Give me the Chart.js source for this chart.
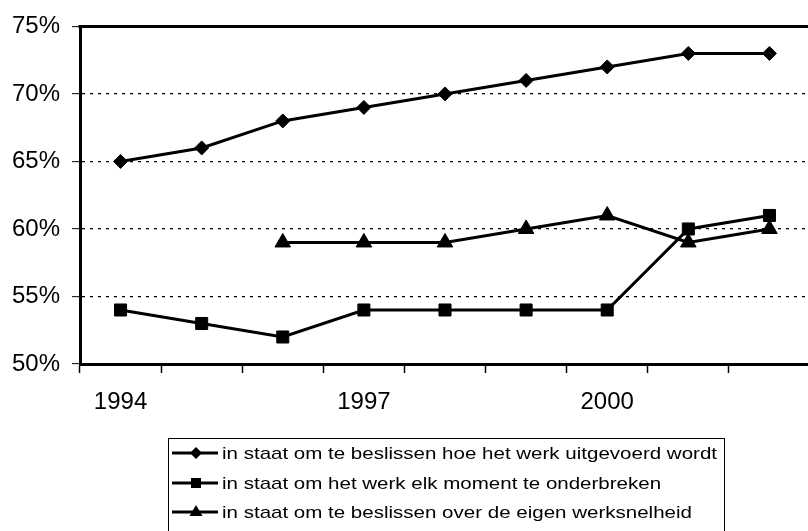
<!DOCTYPE html>
<html>
<head>
<meta charset="utf-8">
<script src="https://cdn.jsdelivr.net/npm/chart.js@4/dist/chart.umd.min.js"></script>
<style>
  html, body { margin: 0; padding: 0; background: #fff; overflow: hidden; }
  #grafiek { display: block; }
</style>
</head>
<body>
<canvas id="grafiek" width="820" height="531"></canvas>
<script>
// gegevens
const jaren = ['1994', '1995', '1996', '1997', '1998', '1999', '2000', '2001', '2002'];
const hoeWerk = [65, 66, 68, 69, 70, 71, 72, 73, 73];
const onderbreken = [54, 53, 52, 54, 54, 54, 54, 60, 61];
const werksnelheid = [null, null, 59, 59, 59, 60, 61, 59, 60];
const yTicks = [50, 55, 60, 65, 70, 75];
const reeksNamen = [
    'in staat om te beslissen hoe het werk uitgevoerd wordt',
    'in staat om het werk elk moment te onderbreken',
    'in staat om te beslissen over de eigen werksnelheid'
];
const symbolen = ['rectRot', 'rect', 'triangle'];

const lettertype = '"Liberation Sans", Arial, sans-serif';

// dikke lijn bovenaan het plotvlak
const kader = {
    id: 'kader',
    beforeDatasetsDraw(chart) {
        const { ctx, chartArea } = chart;
        ctx.save();
        ctx.strokeStyle = '#000';
        ctx.lineWidth = 3;
        ctx.beginPath();
        ctx.moveTo(chartArea.left - 1.5, chartArea.top);
        ctx.lineTo(chartArea.right, chartArea.top);
        ctx.stroke();
        ctx.restore();
    }
};

function tekenSymbool(ctx, stijl, x, y) {
    ctx.beginPath();
    if (stijl === 'rectRot') {
        ctx.moveTo(x - 6, y); ctx.lineTo(x, y - 6); ctx.lineTo(x + 6, y); ctx.lineTo(x, y + 6);
    } else if (stijl === 'rect') {
        ctx.rect(x - 5, y - 5, 10, 10);
    } else {
        ctx.moveTo(x, y - 7); ctx.lineTo(x + 6.5, y + 4); ctx.lineTo(x - 6.5, y + 4);
    }
    ctx.closePath();
    ctx.fill();
}

// legenda onder de grafiek, lijn + symbool zoals het origineel
const legenda = {
    id: 'legenda',
    afterDraw(chart) {
        const ctx = chart.ctx;
        ctx.save();
        ctx.strokeStyle = '#000';
        ctx.lineWidth = 1;
        ctx.strokeRect(168.5, 438.5, 556, 140);
        ctx.font = '17px ' + lettertype;
        // de tekst in het origineel is breed uitgerekt
        const rek = 495 / ctx.measureText(chart.data.datasets[0].label).width;
        const rijen = [453, 483, 512];
        chart.data.datasets.forEach((ds, i) => {
            const y = rijen[i];
            ctx.lineWidth = 3;
            ctx.beginPath();
            ctx.moveTo(172, y);
            ctx.lineTo(218, y);
            ctx.stroke();
            ctx.fillStyle = '#000';
            tekenSymbool(ctx, ds.pointStyle, 196, y);
            ctx.save();
            ctx.translate(222, y + 1);
            ctx.scale(rek, 1);
            ctx.textBaseline = 'middle';
            ctx.textAlign = 'left';
            ctx.fillText(ds.label, 0, 0);
            ctx.restore();
        });
        ctx.restore();
    }
};

const reeksen = [hoeWerk, onderbreken, werksnelheid].map((waarden, i) => ({
    label: reeksNamen[i],
    data: waarden,
    borderColor: '#000',
    borderWidth: 3,
    backgroundColor: '#000',
    pointStyle: symbolen[i],
    pointRadius: [7, 8.5, 9][i],
    pointBackgroundColor: '#000',
    pointBorderColor: '#000',
    pointBorderWidth: 1,
    tension: 0,
    spanGaps: false
}));

new Chart(document.getElementById('grafiek'), {
    type: 'line',
    data: { labels: jaren, datasets: reeksen },
    options: {
        responsive: false,
        animation: false,
        devicePixelRatio: 1,
        layout: { padding: { top: 23, right: 6, bottom: 117, left: 0 } },
        plugins: { legend: { display: false }, tooltip: { enabled: false } },
        scales: {
            x: {
                offset: true,
                grid: {
                    offset: true,
                    drawOnChartArea: false,
                    drawTicks: true,
                    tickLength: 9,
                    tickColor: '#000',
                    tickWidth: 1.5
                },
                border: { display: true, color: '#000', width: 3 },
                ticks: {
                    autoSkip: false,
                    maxRotation: 0,
                    padding: 15,
                    color: '#000',
                    font: { family: lettertype, size: 24 },
                    callback: function (val, i) {
                        return i % 3 === 0 ? this.getLabelForValue(val) : '';
                    }
                },
                afterFit: s => { s.height = 50; }
            },
            y: {
                min: yTicks[0],
                max: yTicks[yTicks.length - 1],
                grid: {
                    color: c => (c.tick && (c.tick.value === yTicks[0] || c.tick.value === yTicks[yTicks.length - 1])) ? 'rgba(0,0,0,0)' : '#000',
                    lineWidth: 1.3,
                    tickColor: '#000',
                    tickLength: 8,
                    tickWidth: 1
                },
                border: { display: true, color: '#000', width: 3, dash: [3, 5] },
                ticks: {
                    stepSize: yTicks[1] - yTicks[0],
                    padding: 12,
                    color: '#000',
                    font: { family: lettertype, size: 24 },
                    callback: v => v + '%'
                },
                afterFit: s => { s.width = 80; }
            }
        }
    },
    plugins: [kader, legenda]
});
</script>
</body>
</html>
